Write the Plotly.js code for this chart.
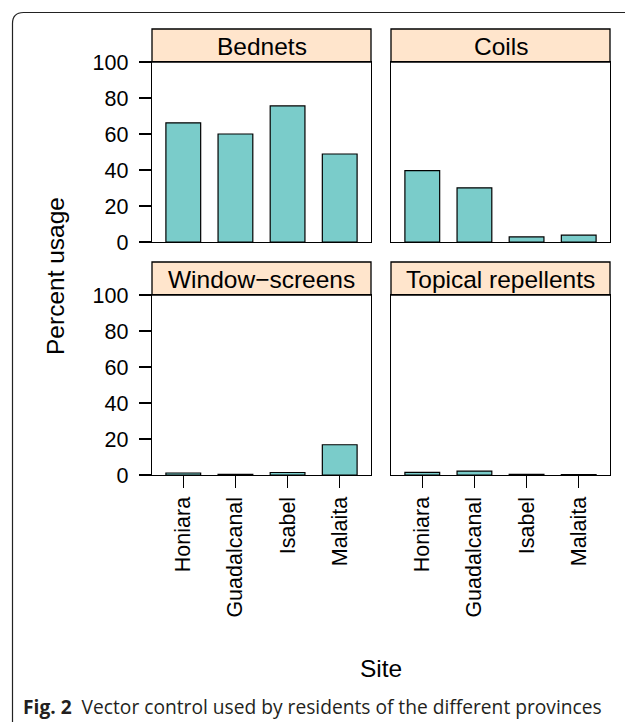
<!DOCTYPE html>
<html>
<head>
<meta charset="utf-8">
<script src="https://cdn.plot.ly/plotly-3.0.1.min.js"></script>
<style>
  html, body { margin: 0; padding: 0; background: #ffffff; }
  #chart { width: 625px; height: 722px; }
</style>
</head>
<body>
<div id="chart"></div>
<script>
// ---- data ----
const sites = ['Honiara', 'Guadalcanal', 'Isabel', 'Malaita'];
const bednets = [66.2, 60.0, 75.6, 48.9];
const coils = [39.6, 30.1, 2.8, 3.8];
const windowScreens = [1.1, 0.3, 1.4, 16.8];
const topicalRepellents = [1.5, 2.2, 0.4, 0.2];
const panelTitles = ['Bednets', 'Coils', 'Window\u2212screens', 'Topical repellents'];
const yTickVals = [0, 20, 40, 60, 80, 100];
const yLabel = 'Percent usage';
const xLabel = 'Site';
const captionBold = 'Fig. 2';
const captionText = 'Vector control used by residents of the different provinces';

// ---- layout helpers (pixel -> paper, margins are zero) ----
const W = 625, H = 722;
const px = x => x / W;
const py = y => 1 - y / H;

const FONT = '"Liberation Sans", Arial, Helvetica, sans-serif';
const barColor = '#7ACCCA';
const stripColor = '#FFE5CC';
const TICK_SIZE = 21.5;
const TEXT_SIZE = 24.5;

const cols = [[152, 371], [391, 610]];
const rows = [[62, 242, 29], [295, 475, 262]]; // plot top, plot bottom, strip top

const seriesList = [bednets, coils, windowScreens, topicalRepellents];

const traces = [];
const layout = {
  width: W, height: H,
  margin: { l: 0, r: 0, t: 0, b: 0, pad: 0 },
  paper_bgcolor: '#ffffff',
  plot_bgcolor: '#ffffff',
  showlegend: false,
  bargap: 1 / 3,
  font: { family: FONT, size: TEXT_SIZE, color: '#000000' },
  shapes: [],
  annotations: []
};

for (let i = 0; i < 4; i++) {
  const r = Math.floor(i / 2), c = i % 2;
  const n = i === 0 ? '' : String(i + 1);
  const [x0, x1] = cols[c];
  const [yTop, yBot, sTop] = rows[r];
  traces.push({
    type: 'bar',
    x: sites,
    y: seriesList[i],
    xaxis: 'x' + n,
    yaxis: 'y' + n,
    marker: { color: barColor, line: { color: '#000000', width: 1.2 } },
    hoverinfo: 'x+y'
  });
  const isBottom = r === 1, isLeft = c === 0;
  layout['xaxis' + n] = {
    domain: [px(x0), px(x1)],
    anchor: 'y' + n,
    type: 'category',
    categoryorder: 'array',
    categoryarray: sites,
    range: [-0.6, 3.6],
    showline: true, mirror: true, linecolor: '#000000', linewidth: 1.3,
    showgrid: false, zeroline: false,
    ticks: isBottom ? 'outside' : '',
    ticklen: 12, tickwidth: 1.3, tickcolor: '#000000',
    showticklabels: isBottom,
    tickangle: -90,
    tickfont: { family: FONT, size: TICK_SIZE, color: '#000000' },
    fixedrange: true
  };
  layout['yaxis' + n] = {
    domain: [py(yBot), py(yTop)],
    anchor: 'x' + n,
    range: [0, 100],
    tickmode: 'array',
    tickvals: yTickVals,
    ticktext: yTickVals.map(String),
    showline: true, mirror: true, linecolor: '#000000', linewidth: 1.3,
    showgrid: false, zeroline: false,
    ticks: isLeft ? 'outside' : '',
    ticklen: 12, tickwidth: 1.3, tickcolor: '#000000',
    showticklabels: isLeft,
    ticklabelstandoff: 6,
    tickfont: { family: FONT, size: TICK_SIZE, color: '#000000' },
    fixedrange: true
  };
  // strip
  layout.shapes.push({
    type: 'rect', xref: 'paper', yref: 'paper',
    x0: px(x0), x1: px(x1), y0: py(yTop), y1: py(sTop),
    fillcolor: stripColor, line: { color: '#000000', width: 1.3 }, layer: 'below'
  });
  layout.annotations.push({
    xref: 'paper', yref: 'paper',
    x: px((x0 + x1) / 2), y: py((yTop + sTop) / 2 + 1),
    xanchor: 'center', yanchor: 'middle',
    text: panelTitles[i], showarrow: false,
    font: { family: FONT, size: TEXT_SIZE, color: '#000000' }
  });
}

// outer frame with rounded top-left corner
const fx = 12.5, fy = 12.5, rad = 11;
layout.shapes.push({
  type: 'path', xref: 'paper', yref: 'paper',
  path: `M ${px(fx)} ${py(H + 5)} L ${px(fx)} ${py(fy + rad)} Q ${px(fx)} ${py(fy)} ${px(fx + rad)} ${py(fy)} L ${px(W + 5)} ${py(fy)}`,
  line: { color: '#222222', width: 1.2 }
});

// axis titles
layout.annotations.push({
  xref: 'paper', yref: 'paper', x: px(55), y: py(276),
  xanchor: 'center', yanchor: 'middle', textangle: -90,
  text: yLabel, showarrow: false,
  font: { family: FONT, size: TEXT_SIZE, color: '#000000' }
});
layout.annotations.push({
  xref: 'paper', yref: 'paper', x: px(381), y: py(668),
  xanchor: 'center', yanchor: 'middle',
  text: xLabel, showarrow: false,
  font: { family: FONT, size: TEXT_SIZE, color: '#000000' }
});
// caption
layout.annotations.push({
  xref: 'paper', yref: 'paper', x: px(21), y: py(706),
  xanchor: 'left', yanchor: 'middle',
  text: '<b>' + captionBold + '</b>  ' + captionText, showarrow: false,
  font: { family: '"Open Sans", "Noto Sans", sans-serif', size: 19.2, color: '#231f20' }
});

Plotly.newPlot('chart', traces, layout, { displayModeBar: false, staticPlot: true });
</script>
</body>
</html>
